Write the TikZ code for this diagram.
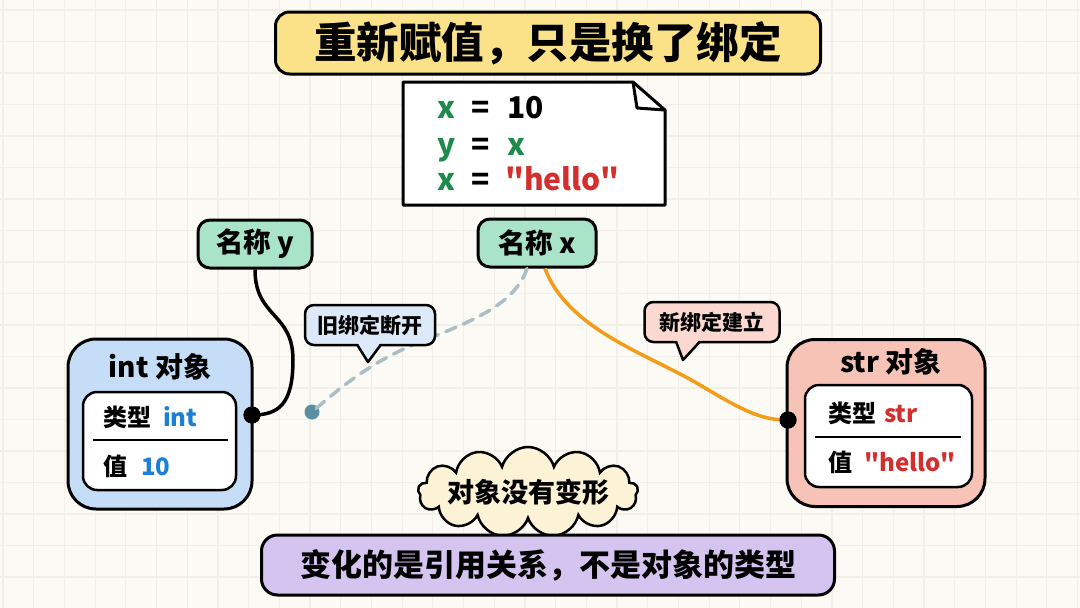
\documentclass[tikz,border=0pt]{standalone}
\usepackage{fontspec}
\setmainfont{Noto Sans CJK SC}[Ligatures=TeXOff]
\usetikzlibrary{shapes.symbols,calc}
\definecolor{bg}{HTML}{FBFAF5}
\definecolor{gridc}{HTML}{F1EFE7}
\definecolor{titlef}{HTML}{FBE289}
\definecolor{mint}{HTML}{A9E3C8}
\definecolor{blueobj}{HTML}{C6DDF7}
\definecolor{salmon}{HTML}{F8C3B7}
\definecolor{lav}{HTML}{D5C3F0}
\definecolor{cloudf}{HTML}{FCF3D6}
\definecolor{bubblue}{HTML}{DCE9F8}
\definecolor{bubpink}{HTML}{FBD8D0}
\definecolor{codegreen}{HTML}{1E8A4C}
\definecolor{codered}{HTML}{D32F2F}
\definecolor{codeblue}{HTML}{1C7FD6}
\definecolor{oldline}{HTML}{A9BFC5}
\definecolor{olddot}{HTML}{5B8FA0}
\definecolor{newline}{HTML}{F39C1A}
\tikzset{
  box/.style={draw=black, line width=3pt, rounded corners=12pt, inner sep=0pt},
  namebox/.style={box, fill=mint, minimum width=114pt, minimum height=48pt, font=\fontsize{27.5}{29}\selectfont\bfseries},
  objbox/.style={draw=black, line width=3pt, rounded corners=28pt, inner sep=0pt},
  innerbox/.style={draw=black, line width=2.5pt, rounded corners=14pt, fill=white, inner sep=0pt},
  bubble/.style={draw=black, line width=2.5pt, rounded corners=9pt, minimum width=130pt, minimum height=40pt, inner sep=0pt, font=\fontsize{21}{23}\selectfont\bfseries},
  codetxt/.style={font=\fontsize{30}{32}\selectfont\bfseries, inner sep=0pt, anchor=base west},
  objtitle/.style={font=\fontsize{28}{30}\selectfont\bfseries, inner sep=0pt},
  rowtxt/.style={font=\fontsize{24}{26}\selectfont\bfseries, inner sep=0pt, anchor=west},
  dotnode/.style={circle, fill=black, minimum size=17pt, inner sep=0pt},
}
\begin{document}
\begin{tikzpicture}[x=1pt,y=-1pt]
\useasboundingbox (0,0) rectangle (1080,608);
\fill[bg] (0,0) rectangle (1080,608);
\foreach \i in {0,...,35} {\draw[gridc, line width=1.2pt] (3+30.7*\i,0) -- (3+30.7*\i,608);}
\foreach \j in {0,...,19} {\draw[gridc, line width=1.2pt] (0,10+31.5*\j) -- (1080,10+31.5*\j);}

% title
\node[box, fill=titlef, rounded corners=14pt, minimum width=545pt, minimum height=62pt,
      font=\fontsize{42.5}{44}\selectfont\bfseries] (title) at (548,43) {重新赋值，只是换了绑定};

% code note
\filldraw[fill=white, draw=black, line width=3pt, line join=round]
  (403,82) -- (633,82) -- (665,110) -- (665,205) -- (403,205) -- cycle;
\draw[line width=3pt, line join=round] (633,82) -- (637,108) -- (665,110);
\node[codetxt, text=codegreen] (c1a) at (437,118) {x};
\node[codetxt] (c1b) at (471,118) {=};
\node[codetxt] (c1c) at (507,118) {10};
\node[codetxt, text=codegreen] (c2a) at (437,155) {y};
\node[codetxt] (c2b) at (471,155) {=};
\node[codetxt, text=codegreen] (c2c) at (507,155) {x};
\node[codetxt, text=codegreen] (c3a) at (437,190) {x};
\node[codetxt] (c3b) at (471,190) {=};
\node[codetxt, text=codered] (c3c) at (505,190) {"hello"};

% names
\node[namebox] (ny) at (255,244) {名称 y};
\node[namebox, minimum width=118pt] (nx) at (537,243) {名称 x};

% int object
\node[objbox, fill=blueobj, minimum width=184pt, minimum height=170pt] (intobj) at (160,424) {};
\node[objtitle] (inttitle) at (160,367) {int 对象};
\node[innerbox, minimum width=153pt, minimum height=98pt] (intin) at (159.5,441) {};
\draw[line width=2.5pt] (93,440) -- (228,440);
\node[rowtxt] (inttype) at (103,417) {类型\hspace{12pt}\textcolor{codeblue}{int}};
\node[rowtxt] (intval) at (103,466) {值\hspace{14pt}\textcolor{codeblue}{10}};

% str object
\node[objbox, fill=salmon, minimum width=198pt, minimum height=167pt] (strobj) at (886,423) {};
\node[objtitle] (strtitle) at (891,362) {str 对象};
\node[innerbox, minimum width=167pt, minimum height=102pt] (strin) at (888.5,436) {};
\draw[line width=2.5pt] (815,437) -- (961,437);
\node[rowtxt] (strtype) at (828,413) {类型\hspace{8pt}\textcolor{codered}{str}};
\node[rowtxt] (strval) at (828,462) {值\hspace{12pt}\textcolor{codered}{"hello"}};

% dots
\node[dotnode] (intdot) at (252,415) {};
\node[dotnode] (strdot) at (788,420) {};
\node[circle, fill=olddot, minimum size=15pt, inner sep=0pt] (olddot) at (312,412) {};

% connectors
\coordinate (nyb) at ($(ny.south)+(0,0)$);
\coordinate (nxb1) at ($(nx.south)+(-10,0)$);
\coordinate (nxb2) at ($(nx.south)+(8,0)$);
\draw[line width=3.5pt] (nyb) .. controls (255,318) and (293,312) .. (293,360)
   .. controls (293,405) and (278,415) .. (intdot.center);
\draw[oldline, line width=3.5pt, dash pattern=on 11pt off 8pt, line cap=round]
   (nxb1) .. controls (515,305) and (470,322) .. (420,342)
   .. controls (370,362) and (340,388) .. (olddot.center);
\draw[newline, line width=3.5pt] (nxb2) .. controls (568,330) and (650,355) .. (700,385)
   .. controls (745,412) and (762,420) .. (strdot.center);
\node[dotnode] at (strdot) {};
\node[dotnode] at (intdot) {};

% bubbles
\node[bubble, fill=bubblue] (oldb) at (370,325) {旧绑定断开};
\coordinate (oldtip) at (368,362);
\fill[bubblue] (357,342) -- (oldtip) -- (381,342) -- cycle;
\draw[line width=2.5pt, line join=round] (357,344.5) -- (oldtip) -- (381,344.5);

\node[bubble, fill=bubpink, minimum width=135pt] (newb) at (712,322) {新绑定建立};
\coordinate (newtip) at (683,360);
\fill[bubpink] (676,339) -- (newtip) -- (700,339) -- cycle;
\draw[line width=2.5pt, line join=round] (676,341.5) -- (newtip) -- (700,341.5);

% cloud
\node[cloud, cloud puffs=13, aspect=2.6, draw=black, line width=2.5pt, fill=cloudf,
      minimum width=220pt, minimum height=90pt, inner sep=0pt] (cloud) at (528,492) {};
\node[font=\fontsize{27}{29}\selectfont\bfseries, inner sep=0pt] (cloudtxt) at (cloud.center) {对象没有变形};

% bottom
\node[box, fill=lav, rounded corners=16pt, minimum width=573pt, minimum height=60pt,
      font=\fontsize{31}{33}\selectfont\bfseries] (bottom) at (548,565) {变化的是引用关系，不是对象的类型};
\end{tikzpicture}
\end{document}
